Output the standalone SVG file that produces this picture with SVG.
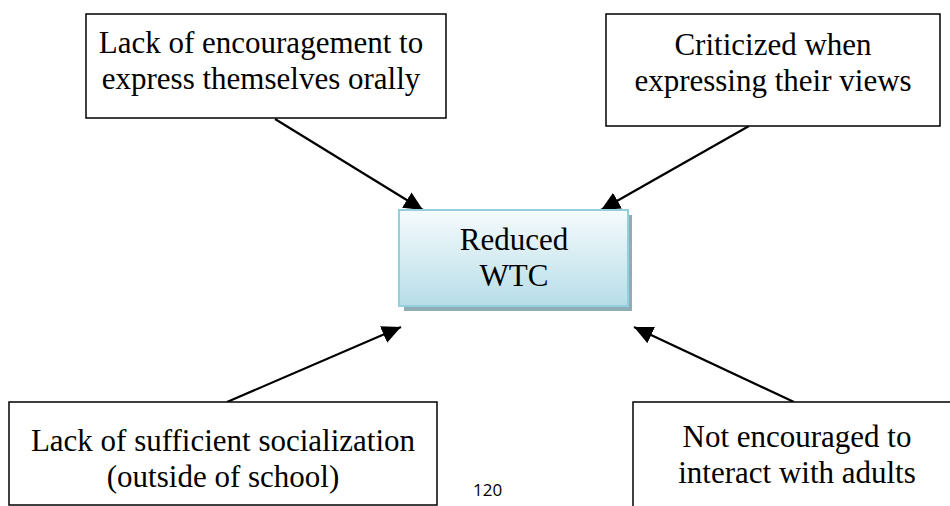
<svg xmlns="http://www.w3.org/2000/svg" width="950" height="506" viewBox="0 0 950 506">
  <style>
    .box { fill: #ffffff; stroke: #000000; stroke-width: 1.5; }
    .lbl { font-family: 'Liberation Serif', Tinos, 'Times New Roman', Times, serif; font-size: 31px; fill: #000000; text-anchor: middle; }
    .conn { stroke: #000000; stroke-width: 2.2; fill: none; marker-end: url(#arrow); }
    .pgno { font-family: 'Open Sans', 'Liberation Sans', sans-serif; font-size: 17px; fill: #000000; }
  </style>
  <defs>
    <marker id="arrow" markerUnits="userSpaceOnUse" markerWidth="20" markerHeight="18" refX="19" refY="9" orient="auto">
      <path d="M0,0 L19,9 L0,18 Z" fill="#000000"/>
    </marker>
    <linearGradient id="centerFill" x1="0" y1="0" x2="0" y2="1">
      <stop offset="0" stop-color="#f6fbfd"/>
      <stop offset="1" stop-color="#b7dde8"/>
    </linearGradient>
  </defs>

  <rect width="950" height="506" fill="#ffffff"/>

  <!-- connectors: every cause points at the central effect -->
  <g id="connectors">
    <path class="conn" d="M275,119 L423,210"/>
    <path class="conn" d="M749,126 L601,210"/>
    <path class="conn" d="M227,402 L401,327"/>
    <path class="conn" d="M794,402 L634,327"/>
  </g>

  <g id="node-encouragement">
    <rect class="box" x="86" y="14" width="360" height="104"/>
    <text class="lbl" x="261" y="53">Lack of encouragement to</text>
    <text class="lbl" x="261" y="89">express themselves orally</text>
  </g>

  <g id="node-criticized">
    <rect class="box" x="606" y="14" width="334" height="112"/>
    <text class="lbl" x="773" y="55">Criticized when</text>
    <text class="lbl" x="773" y="91">expressing their views</text>
  </g>

  <g id="node-wtc">
    <rect x="404" y="215" width="228" height="96" fill="#8fadb4"/>
    <rect x="399" y="210" width="229" height="96" fill="url(#centerFill)" stroke="#93cfdd" stroke-width="2"/>
    <text class="lbl" x="514" y="250">Reduced</text>
    <text class="lbl" x="514" y="286">WTC</text>
  </g>

  <g id="node-socialization">
    <rect class="box" x="9" y="402" width="428" height="103"/>
    <text class="lbl" x="223" y="451">Lack of sufficient socialization</text>
    <text class="lbl" x="223" y="487">(outside of school)</text>
  </g>

  <g id="node-adults">
    <rect class="box" x="633" y="402" width="330" height="120"/>
    <text class="lbl" x="797" y="447">Not encouraged to</text>
    <text class="lbl" x="797" y="483">interact with adults</text>
  </g>

  <text class="pgno" x="473" y="496">120</text>
</svg>
